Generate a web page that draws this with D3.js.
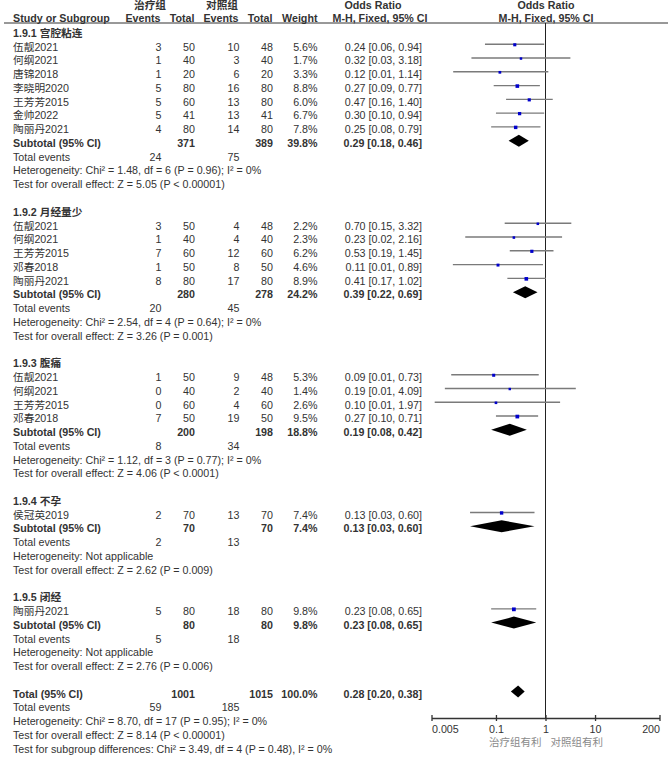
<!DOCTYPE html>
<html>
<head>
<meta charset="utf-8">
<script src="https://cdn.jsdelivr.net/npm/d3@7"></script>
<style>
  body { margin: 0; background: #fff; }
  svg text { font-family: "Liberation Sans", Arial, "Noto Sans CJK SC", sans-serif; fill: #333; }
</style>
</head>
<body>
<svg id="chart" width="668" height="760"></svg>
<script>
// ---------------- DATA ----------------
const subgroupLabels = ["1.9.1 宫腔粘连", "1.9.2 月经量少", "1.9.3 腹痛", "1.9.4 不孕", "1.9.5 闭经"];

const studyNames = [
  "伍靓2021", "何纲2021", "唐锦2018", "李晓明2020", "王芳芳2015", "金帅2022", "陶丽丹2021",
  "伍靓2021", "何纲2021", "王芳芳2015", "邓春2018", "陶丽丹2021",
  "伍靓2021", "何纲2021", "王芳芳2015", "邓春2018",
  "侯冠英2019",
  "陶丽丹2021"
];
const studyGroup = [0,0,0,0,0,0,0, 1,1,1,1,1, 2,2,2,2, 3, 4];
const treatEvents = [3,1,1,5,5,5,4, 3,1,7,1,8, 1,0,0,7, 2, 5];
const treatTotal  = [50,40,20,80,60,41,80, 50,40,60,50,80, 50,40,60,50, 70, 80];
const ctrlEvents  = [10,3,6,16,13,13,14, 4,4,12,8,17, 9,2,4,19, 13, 18];
const ctrlTotal   = [48,40,20,80,80,41,80, 48,40,60,50,80, 48,40,60,50, 70, 80];
const studyWeight = [5.6,1.7,3.3,8.8,6.0,6.7,7.8, 2.2,2.3,6.2,4.6,8.9, 5.3,1.4,2.6,9.5, 7.4, 9.8];
const studyOR     = [0.24,0.32,0.12,0.27,0.47,0.30,0.25, 0.70,0.23,0.53,0.11,0.41, 0.09,0.19,0.10,0.27, 0.13, 0.23];
const studyLo     = [0.06,0.032,0.0137,0.09,0.16,0.10,0.08, 0.15,0.024,0.19,0.0135,0.17, 0.0125,0.0093,0.0058,0.10, 0.03, 0.08];
const studyHi     = [0.94,3.18,1.14,0.77,1.40,0.94,0.79, 3.32,2.16,1.45,0.89,1.02, 0.73,4.09,1.97,0.71, 0.60, 0.65];

const subTreatTotal = [371, 280, 200, 70, 80];
const subCtrlTotal  = [389, 278, 198, 70, 80];
const subWeight     = [39.8, 24.2, 18.8, 7.4, 9.8];
const subOR         = [0.29, 0.39, 0.19, 0.13, 0.23];
const subLo         = [0.18, 0.22, 0.08, 0.03, 0.08];
const subHi         = [0.46, 0.69, 0.42, 0.60, 0.65];
const subTreatEvents = [24, 20, 8, 2, 5];
const subCtrlEvents  = [75, 45, 34, 13, 18];
const subHet = [
  "Heterogeneity: Chi² = 1.48, df = 6 (P = 0.96); I² = 0%",
  "Heterogeneity: Chi² = 2.54, df = 4 (P = 0.64); I² = 0%",
  "Heterogeneity: Chi² = 1.12, df = 3 (P = 0.77); I² = 0%",
  "Heterogeneity: Not applicable",
  "Heterogeneity: Not applicable"
];
const subTest = [
  "Test for overall effect: Z = 5.05 (P < 0.00001)",
  "Test for overall effect: Z = 3.26 (P = 0.001)",
  "Test for overall effect: Z = 4.06 (P < 0.0001)",
  "Test for overall effect: Z = 2.62 (P = 0.009)",
  "Test for overall effect: Z = 2.76 (P = 0.006)"
];

const totalTreatTotal = 1001, totalCtrlTotal = 1015, totalWeight = 100.0;
const totalOR = 0.28, totalLo = 0.20, totalHi = 0.38;
const totalTreatEvents = 59, totalCtrlEvents = 185;
const totalTexts = [
  "Heterogeneity: Chi² = 8.70, df = 17 (P = 0.95); I² = 0%",
  "Test for overall effect: Z = 8.14 (P < 0.00001)",
  "Test for subgroup differences: Chi² = 3.49, df = 4 (P = 0.48), I² = 0%"
];

const axisTicks = [0.005, 0.1, 1, 10, 200];
const headerGroups = ["治疗组", "对照组"];
const favourLabels = ["治疗组有利", "对照组有利"];

// ---------------- LAYOUT ----------------
const svg = d3.select("#chart");
const FS = 10.7;
const rowH = 13.77, row0 = 33;
const colX = { name: 13, e1: 161.5, n1: 195, e2: 239.5, n2: 273, w: 317.5, or: 422 };
const markOff = -2.5;
const axisY = 718;

const x = d3.scaleLog().domain([0.005, 200]).range([431.5, 659.5]);
const f2 = d3.format(".2f");
const f1 = d3.format(".1f");
const orText = (o, l, h) => `${f2(o)} [${f2(l)}, ${f2(h)}]`;
const boxSize = d3.scaleLinear().domain([0, 10]).range([2.2, 3.8]);

// build line list
const lines = [];
subgroupLabels.forEach((lab, g) => {
  lines.push({ type: "heading", g });
  studyNames.forEach((n, i) => { if (studyGroup[i] === g) lines.push({ type: "study", i }); });
  lines.push({ type: "subtotal", g });
  lines.push({ type: "events", g });
  lines.push({ type: "text", text: subHet[g] });
  lines.push({ type: "text", text: subTest[g] });
  lines.push({ type: "blank" });
});
lines.push({ type: "total" });
lines.push({ type: "totalEvents" });
totalTexts.forEach(t => lines.push({ type: "text", text: t }));
lines.forEach((d, k) => d.y = row0 + k * rowH);

function txt(xp, y, s, anchor = "start", bold = false) {
  return svg.append("text").attr("x", xp).attr("y", y).attr("dy", "0.35em")
    .attr("text-anchor", anchor).attr("font-size", FS)
    .attr("font-weight", bold ? "bold" : "normal").text(s);
}

// ---------------- HEADER ----------------
txt(150, 5.5, headerGroups[0], "middle", true);
txt(222, 5.5, headerGroups[1], "middle", true);
txt(373, 5.5, "Odds Ratio", "middle", true);
txt(546, 5.5, "Odds Ratio", "middle", true);
txt(colX.name, 18.5, "Study or Subgroup", "start", true);
txt(colX.e1 - 1, 18.5, "Events", "end", true);
txt(colX.n1 - 0.5, 18.5, "Total", "end", true);
txt(colX.e2 - 1, 18.5, "Events", "end", true);
txt(colX.n2 - 0.5, 18.5, "Total", "end", true);
txt(colX.w, 18.5, "Weight", "end", true);
txt(380, 18.5, "M-H, Fixed, 95% CI", "middle", true);
txt(546, 18.5, "M-H, Fixed, 95% CI", "middle", true);
svg.append("line").attr("x1", 4).attr("x2", 668).attr("y1", 23).attr("y2", 23)
  .attr("stroke", "#333").attr("stroke-width", 1);

// null line
svg.append("line").attr("x1", x(1)).attr("x2", x(1)).attr("y1", 23).attr("y2", axisY)
  .attr("stroke", "#222").attr("stroke-width", 1);

// ---------------- ROWS ----------------
function diamond(y, o, l, h) {
  const hh = 6;
  svg.append("path")
    .attr("d", `M${x(l)},${y} L${x(o)},${y - hh} L${x(h)},${y} L${x(o)},${y + hh} Z`)
    .attr("fill", "#000");
}

lines.forEach(d => {
  const y = d.y;
  if (d.type === "heading") {
    txt(colX.name, y, subgroupLabels[d.g], "start", true);
  } else if (d.type === "study") {
    const i = d.i;
    txt(colX.name, y, studyNames[i]);
    txt(colX.e1, y, treatEvents[i], "end");
    txt(colX.n1, y, treatTotal[i], "end");
    txt(colX.e2, y, ctrlEvents[i], "end");
    txt(colX.n2, y, ctrlTotal[i], "end");
    txt(colX.w, y, f1(studyWeight[i]) + "%", "end");
    txt(colX.or, y, orText(studyOR[i], studyLo[i], studyHi[i]), "end");
    const my = y + markOff;
    svg.append("line").attr("x1", x(studyLo[i])).attr("x2", x(studyHi[i]))
      .attr("y1", my).attr("y2", my).attr("stroke", "#7a7a7a").attr("stroke-width", 1.4);
    const s = boxSize(studyWeight[i]);
    svg.append("rect").attr("x", x(studyOR[i]) - s / 2).attr("y", my + 0.5 - s / 2)
      .attr("width", s).attr("height", s).attr("fill", "#0000cc");
  } else if (d.type === "subtotal") {
    const g = d.g;
    txt(colX.name, y, "Subtotal (95% CI)", "start", true);
    txt(colX.n1, y, subTreatTotal[g], "end", true);
    txt(colX.n2, y, subCtrlTotal[g], "end", true);
    txt(colX.w, y, f1(subWeight[g]) + "%", "end", true);
    txt(colX.or, y, orText(subOR[g], subLo[g], subHi[g]), "end", true);
    diamond(y + markOff, subOR[g], subLo[g], subHi[g]);
  } else if (d.type === "events") {
    txt(colX.name, y, "Total events");
    txt(colX.e1, y, subTreatEvents[d.g], "end");
    txt(colX.e2, y, subCtrlEvents[d.g], "end");
  } else if (d.type === "text") {
    txt(colX.name, y, d.text);
  } else if (d.type === "total") {
    txt(colX.name, y, "Total (95% CI)", "start", true);
    txt(colX.n1, y, totalTreatTotal, "end", true);
    txt(colX.n2, y, totalCtrlTotal, "end", true);
    txt(colX.w, y, f1(totalWeight) + "%", "end", true);
    txt(colX.or, y, orText(totalOR, totalLo, totalHi), "end", true);
    diamond(y + markOff, totalOR, totalLo, totalHi);
  } else if (d.type === "totalEvents") {
    txt(colX.name, y, "Total events");
    txt(colX.e1, y, totalTreatEvents, "end");
    txt(colX.e2, y, totalCtrlEvents, "end");
  }
});

// ---------------- AXIS ----------------
const axis = d3.axisBottom(x).tickValues(axisTicks).tickFormat(d => String(d))
  .tickSizeInner(3).tickSizeOuter(0).tickPadding(4);
const ag = svg.append("g").attr("transform", `translate(0,${axisY})`).call(axis);
ag.select(".domain").attr("stroke", "#333").attr("stroke-width", 1.3);
ag.selectAll(".tick line").attr("y1", -3).attr("y2", 3).attr("stroke", "#333").attr("stroke-width", 1.3);
ag.selectAll(".tick text").attr("font-size", FS).attr("fill", "#333")
  .attr("font-family", '"Liberation Sans", Arial, sans-serif')
  .attr("text-anchor", (d, i) => i === 0 ? "start" : (i === axisTicks.length - 1 ? "end" : "middle"));

svg.append("text").attr("x", x(1) - 4).attr("y", 742).attr("dy", "0.35em")
  .attr("text-anchor", "end").attr("font-size", 10.5).style("fill", "#8a8a8a").text(favourLabels[0]);
svg.append("text").attr("x", x(1) + 5).attr("y", 742).attr("dy", "0.35em")
  .attr("text-anchor", "start").attr("font-size", 10.5).style("fill", "#8a8a8a").text(favourLabels[1]);
</script>
</body>
</html>
